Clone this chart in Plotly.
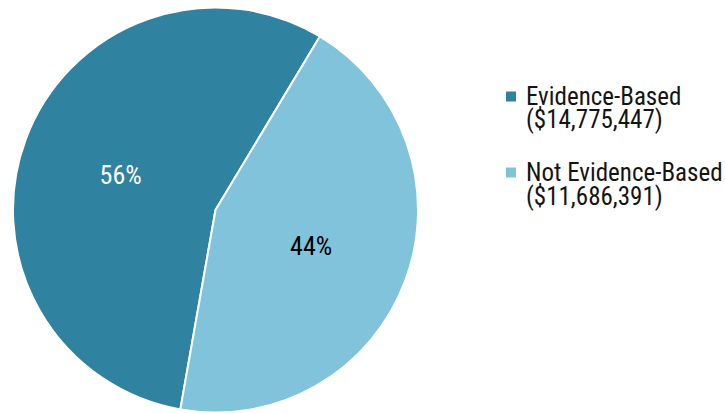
import plotly.graph_objects as go

# Funding split by program type
categories = ["Evidence-Based", "Not Evidence-Based"]
amounts = [14775447, 11686391]
slice_colors = ["#2F82A0", "#80C3DB"]
label_colors = ["white", "black"]

FONT = "Roboto Condensed, Liberation Sans Narrow, Arial Narrow, sans-serif"
TEXT_COLOR = "#141414"

W, H = 725, 413

total = sum(amounts)
pct_text = [f"{round(100 * a / total)}%" for a in amounts]

fig = go.Figure(
    go.Pie(
        labels=categories,
        values=amounts,
        text=pct_text,
        textinfo="text",
        textposition="inside",
        insidetextorientation="horizontal",
        textfont=dict(family=FONT, size=26, color=label_colors),
        marker=dict(colors=slice_colors, line=dict(color="white", width=2)),
        sort=False,
        direction="clockwise",
        rotation=190,
        hoverinfo="label+value+percent",
        showlegend=False,
        domain=dict(x=[13 / W, 418 / W], y=[0.5 / H, 405.5 / H]),
    )
)

# Legend at the right: colour swatch, category name, and amount on a second line
legend_x_swatch = (506, 516)
legend_x_text = 524
legend_rows = [(96, 120), (172, 196)]   # pixel y of the two text lines per entry
swatch_half = 5

for name, amt, color, (y1, y2) in zip(categories, amounts, slice_colors, legend_rows):
    yc = y1 + 0.5
    fig.add_shape(
        type="rect", xref="paper", yref="paper",
        x0=legend_x_swatch[0] / W, x1=legend_x_swatch[1] / W,
        y0=1 - (yc + swatch_half) / H, y1=1 - (yc - swatch_half) / H,
        fillcolor=color, line=dict(width=0),
    )
    for txt, y in ((name, y1), (f"(${amt:,})", y2)):
        fig.add_annotation(
            x=legend_x_text / W, y=1 - y / H, xref="paper", yref="paper",
            xanchor="left", yanchor="middle", showarrow=False,
            text=txt, font=dict(family=FONT, size=25, color=TEXT_COLOR),
        )

fig.update_layout(
    width=W,
    height=H,
    margin=dict(l=0, r=0, t=0, b=0),
    paper_bgcolor="white",
    plot_bgcolor="white",
    font=dict(family=FONT, size=25, color=TEXT_COLOR),
)

fig.write_html("out.html")
